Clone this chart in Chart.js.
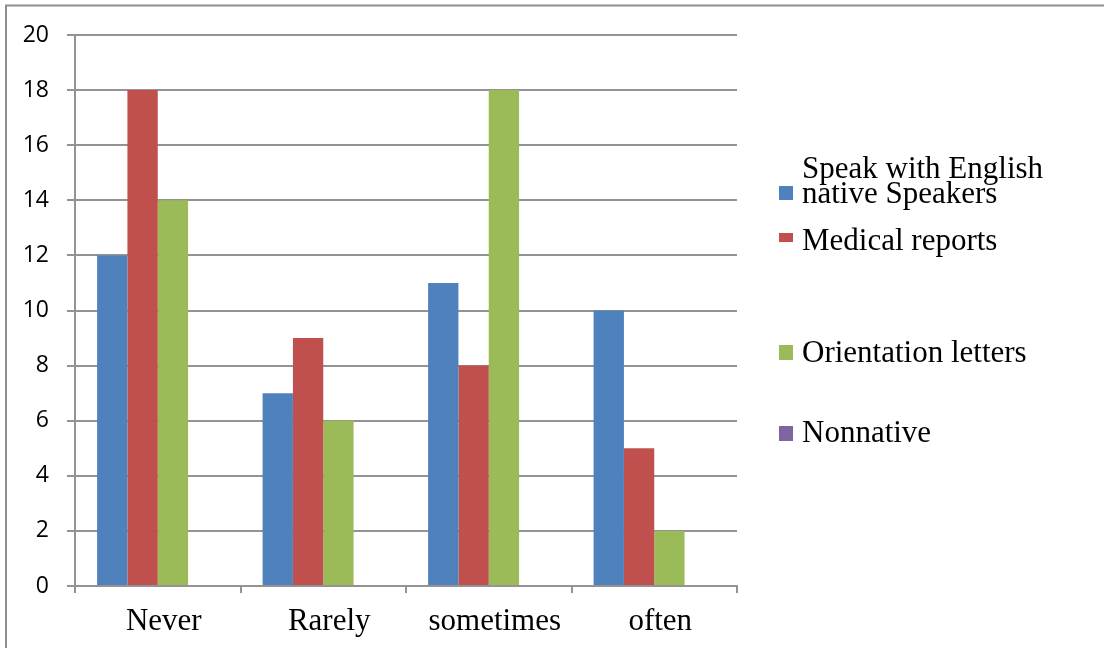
<!DOCTYPE html>
<html>
<head>
<meta charset="utf-8">
<script src="https://cdn.jsdelivr.net/npm/chart.js@4/dist/chart.umd.min.js"></script>
<style>
  html, body { margin: 0; padding: 0; background: #ffffff; }
  #wrap { width: 1104px; height: 648px; }
</style>
</head>
<body>
<div id="wrap"><canvas id="c" width="1104" height="648"></canvas></div>
<script>
// Frequency categories along the x axis
const categories = ['Never', 'Rarely', 'sometimes', 'often'];

// Series names (line breaks mark where the legend text wraps)
const seriesNames = [
  'Speak with English\nnative Speakers',
  'Medical reports',
  'Orientation letters',
  'Nonnative'
];

// Counts per category for each series
const speakWithNatives   = [12, 7, 11, 10];
const medicalReports     = [18, 9, 8, 5];
const orientationLetters = [14, 6, 18, 2];
const nonnative          = [0, 0, 0, 0];

// Y axis ticks
const yTicks = [0, 2, 4, 6, 8, 10, 12, 14, 16, 18, 20];

const seriesColors = ['#4F81BD', '#C0504D', '#9BBB59', '#8064A2'];
const gridColor = '#939393';
const serifFont = '"Liberation Serif", "Times New Roman", serif';

// Frame lines along the left and top edges of the figure
const framePlugin = {
  id: 'frame',
  beforeDraw(chart) {
    const ctx = chart.ctx;
    ctx.save();
    ctx.fillStyle = '#ffffff';
    ctx.fillRect(0, 0, chart.width, chart.height);
    ctx.strokeStyle = '#8f8f8f';
    ctx.lineWidth = 2;
    ctx.beginPath();
    ctx.moveTo(6, chart.height);
    ctx.lineTo(6, 5.5);
    ctx.lineTo(chart.width, 5.5);
    ctx.stroke();
    ctx.restore();
  }
};

// Legend at the right of the plot, one row per series
const sideLegend = {
  id: 'sideLegend',
  afterDraw(chart) {
    const ctx = chart.ctx;
    const rows = [
      { box: [779, 186, 14, 14], baseline: 178 },
      { box: [779, 233, 14, 9],  baseline: 250 },
      { box: [779, 345, 14, 15], baseline: 362 },
      { box: [779, 426, 14, 15], baseline: 442 }
    ];
    ctx.save();
    ctx.font = '31px ' + serifFont;
    ctx.textAlign = 'left';
    ctx.textBaseline = 'alphabetic';
    chart.data.datasets.forEach((ds, i) => {
      const r = rows[i];
      ctx.fillStyle = ds.backgroundColor;
      ctx.fillRect(r.box[0], r.box[1], r.box[2], r.box[3]);
      ctx.fillStyle = '#000000';
      ds.label.split('\n').forEach((line, j) => {
        ctx.fillText(line, 802, r.baseline + j * 25);
      });
    });
    ctx.restore();
  }
};

const seriesData = [speakWithNatives, medicalReports, orientationLetters, nonnative];

new Chart(document.getElementById('c'), {
  type: 'bar',
  data: {
    labels: categories,
    datasets: seriesData.map((d, i) => ({
      label: seriesNames[i],
      data: d,
      backgroundColor: seriesColors[i],
      borderWidth: 0,
      barPercentage: 1.0,
      categoryPercentage: 0.733
    }))
  },
  options: {
    responsive: false,
    animation: false,
    layout: { padding: { top: 35, right: 367, left: 0, bottom: 0 } },
    plugins: {
      legend: { display: false },
      tooltip: { enabled: false }
    },
    scales: {
      x: {
        afterFit(scale) { scale.height = 62; },
        grid: {
          display: true,
          drawOnChartArea: false,
          drawTicks: true,
          tickLength: 7,
          color: gridColor,
          lineWidth: 2
        },
        border: { display: true, color: gridColor, width: 2 },
        ticks: {
          color: '#000000',
          padding: 10,
          labelOffset: 6,
          font: { family: serifFont, size: 31 },
          maxRotation: 0,
          autoSkip: false
        }
      },
      y: {
        min: 0,
        max: 20,
        afterFit(scale) { scale.width = 75; },
        afterBuildTicks(scale) { scale.ticks = yTicks.map(v => ({ value: v })); },
        grid: {
          display: true,
          drawOnChartArea: true,
          drawTicks: true,
          tickLength: 8,
          color: gridColor,
          lineWidth: 2
        },
        border: { display: true, color: gridColor, width: 2 },
        ticks: {
          color: '#000000',
          padding: 18,
          font: { family: '"Open Sans", "Liberation Sans", sans-serif', size: 23 }
        }
      }
    }
  },
  plugins: [framePlugin, sideLegend]
});
</script>
</body>
</html>
